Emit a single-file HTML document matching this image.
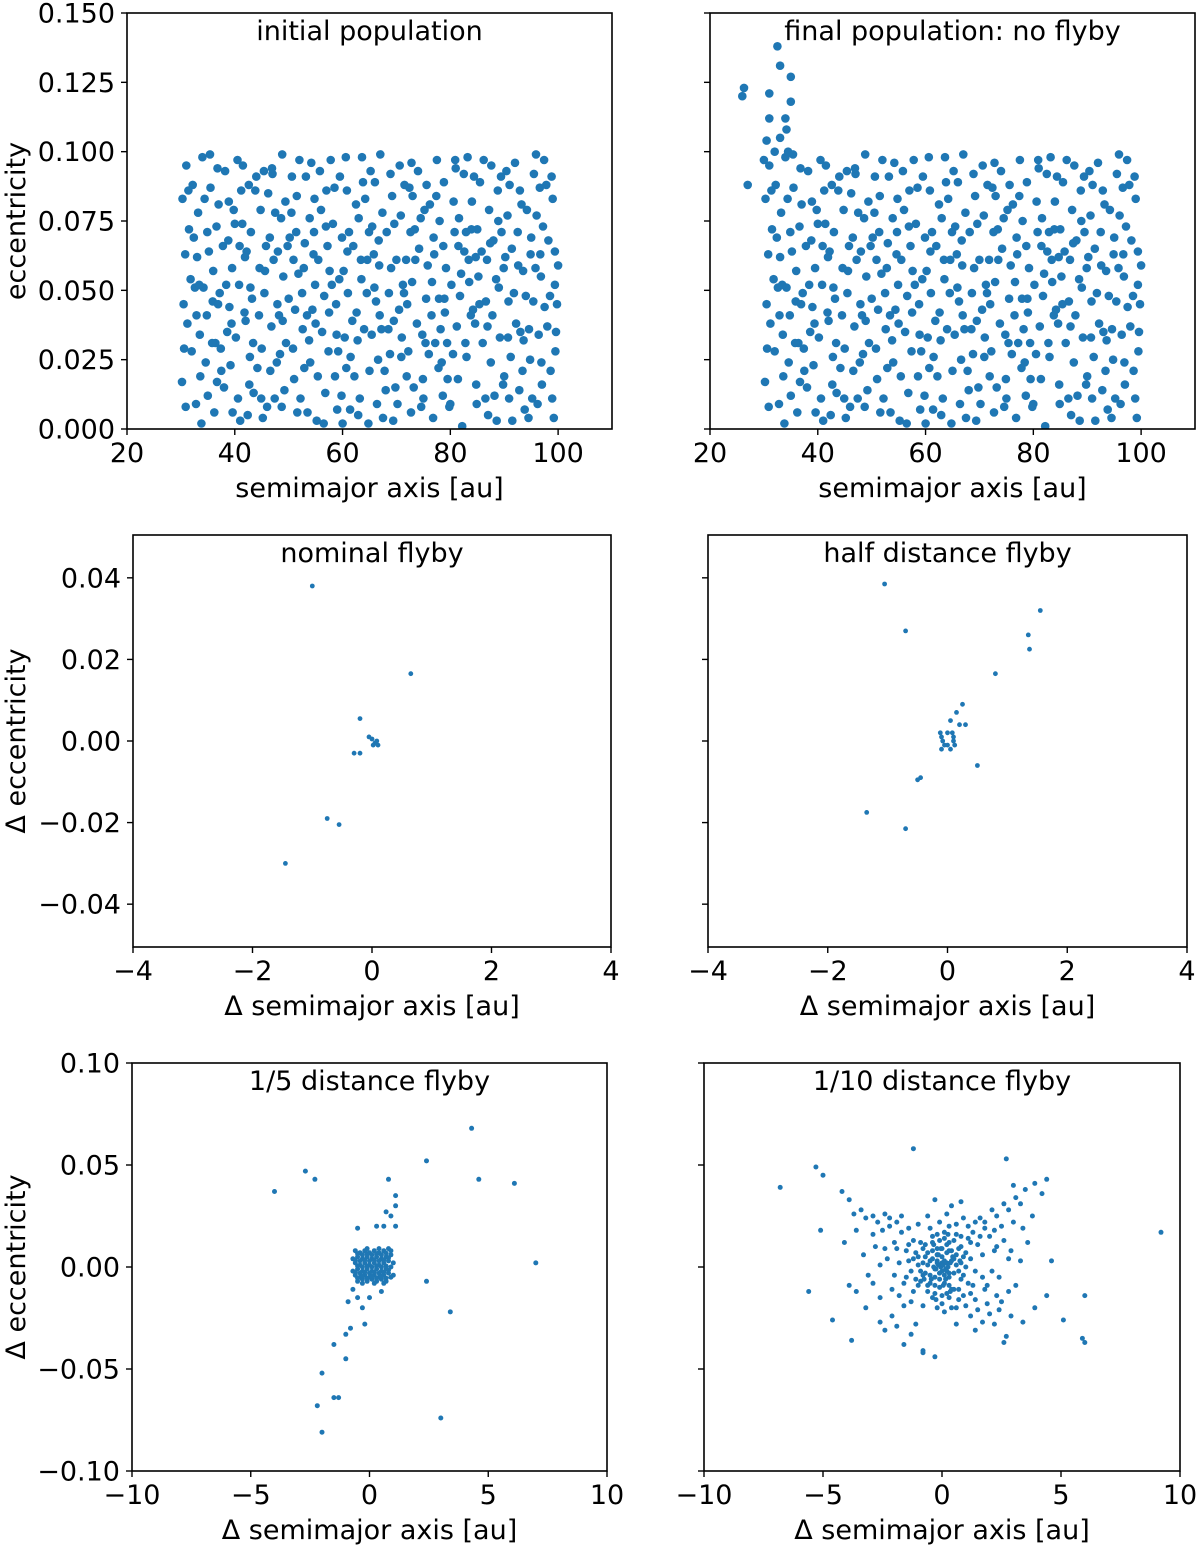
<!DOCTYPE html>
<html><head><meta charset="utf-8">
<style>
html,body{margin:0;padding:0;background:#fff;}
svg{display:block;font-family:"DejaVu Sans","Liberation Sans",sans-serif;}
</style></head>
<body>
<svg id="fig" width="1200" height="1548" viewBox="0 0 1200 1548" xmlns="http://www.w3.org/2000/svg"></svg>
<script>
// ---------- data ----------
const initPopA = [
[31,.095],[33,.062],[35,.012],[37,.081],[39,.044],[41,.003],[43,.071],[45,.029],[47,.092],[49,.055],[51,.018],[53,.067],[55,.038],[57,.086],[59,.007],[61,.049],[63,.076],[65,.021],[67,.099],[69,.058],[71,.033],[73,.084],[75,.011],[77,.063],[79,.042],[81,.094],[83,.026],[85,.072],[87,.005],[89,.051],[91,.088],[93,.035],[95,.069],[97,.016],[99,.083],
[30.5,.045],[32,.028],[34,.098],[36,.057],[38,.015],[40,.074],[42,.039],[44,.091],[46,.008],[48,.064],[50,.047],[52,.097],[54,.024],[56,.079],[58,.052],[60,.002],[62,.066],[64,.036],[66,.089],[68,.014],[70,.061],[72,.045],[74,.093],[76,.027],[78,.075],[80,.009],[82,.056],[84,.082],[86,.031],[88,.068],[90,.019],[92,.096],[94,.048],[96,.077],[98,.037],[100,.059],
[31.5,.072],[33.5,.034],[35.5,.087],[37.5,.021],[39.5,.058],[41.5,.095],[43.5,.013],[45.5,.049],[47.5,.078],[49.5,.031],[51.5,.084],[53.5,.006],[55.5,.061],[57.5,.042],[59.5,.091],[61.5,.026],[63.5,.054],[65.5,.073],[67.5,.004],[69.5,.039],[71.5,.088],[73.5,.061],[75.5,.047],[77.5,.097],[79.5,.018],[81.5,.066],[83.5,.053],[85.5,.089],[87.5,.024],[89.5,.071],[91.5,.003],[93.5,.057],[95.5,.092],[97.5,.044],[99.5,.028],
[30.2,.017],[32.2,.088],[34.2,.051],[36.2,.006],[38.2,.093],[40.2,.033],[42.2,.064],[44.2,.022],[46.2,.085],[48.2,.041],[50.2,.069],[52.2,.011],[54.2,.096],[56.2,.035],[58.2,.074],[60.2,.057],[62.2,.019],[64.2,.083],[66.2,.046],[68.2,.071],[70.2,.009],[72.2,.028],[74.2,.065],[76.2,.081],[78.2,.036],[80.2,.052],[82.2,.001],[84.2,.043],[86.2,.097],[88.2,.012],[90.2,.062],[92.2,.038],[94.2,.079],[96.2,.009],[98.2,.068],
[30.8,.063],[32.8,.009],[34.8,.041],[36.8,.094],[38.8,.068],[40.8,.052],[42.8,.026],[44.8,.079],[46.8,.037],[48.8,.099],[50.8,.029],[52.8,.058],[54.8,.083],[56.8,.013],[58.8,.045],[60.8,.086],[62.8,.032],[64.8,.002],[66.8,.059],[68.8,.027],[70.8,.077],[72.8,.096],[74.8,.034],[76.8,.004],[78.8,.089],[80.8,.071],[82.8,.031],[84.8,.016],[86.8,.061],[88.8,.086],[90.8,.046],[92.8,.014],[94.8,.025],[96.8,.055],[98.8,.091],
[31.2,.038],[33.2,.078],[35.2,.064],[37.2,.049],[39.2,.023],[41.2,.086],[43.2,.047],[45.2,.004],[47.2,.061],[49.2,.014],[51.2,.043],[53.2,.091],[55.2,.003],[57.2,.066],[59.2,.028],[61.2,.071],[63.2,.011],[65.2,.093],[67.2,.036],[69.2,.084],[71.2,.052],[73.2,.015],[75.2,.079],[77.2,.031],[79.2,.058],[81.2,.037],[83.2,.098],[85.2,.055],[87.2,.079],[89.2,.033],[91.2,.026],[93.2,.081],[95.2,.011],[97.2,.073],[99.2,.004],
[32.6,.051],[34.6,.024],[36.6,.073],[38.6,.035],[40.6,.011],[42.6,.088],[44.6,.058],[46.6,.021],[48.6,.076],[50.6,.091],[52.6,.036],[54.6,.063],[56.6,.048],[58.6,.019],[60.6,.098],[62.6,.042],[64.6,.061],[66.6,.025],[68.6,.049],[70.6,.095],[72.6,.071],[74.6,.008],[76.6,.053],[78.6,.012],[80.6,.082],[82.6,.064],[84.6,.038],[86.6,.046],[88.6,.003],[90.6,.077],[92.6,.059],[94.6,.036],[96.6,.087],[98.6,.021],[99.8,.045],
[30.3,.083],[33.8,.002],[36.4,.031],[39.8,.079],[42.4,.005],[45.8,.066],[48.4,.027],[51.8,.056],[54.4,.043],[57.8,.097],[60.4,.033],[63.8,.089],[66.4,.009],[69.8,.015],[72.4,.087],[75.8,.059],[78.4,.024],[81.8,.048],[84.4,.091],[87.8,.041],[90.4,.093],[93.8,.007],[96.4,.034],[99.4,.064],[35.9,.046],[41.9,.062],[47.9,.045],[53.9,.076],[59.9,.069],[65.9,.051],[71.9,.019],[77.9,.047],[83.9,.072],[89.9,.058],[95.9,.099]
];
const initPopB = [
[30.6,.029],[32.4,.069],[34.4,.083],[36.7,.017],[38.4,.052],[40.5,.097],[42.7,.016],[44.5,.041],[46.5,.069],[48.7,.008],[50.5,.078],[52.5,.049],[54.7,.071],[56.5,.002],[58.5,.087],[60.7,.022],[62.5,.081],[64.5,.049],[66.7,.068],[68.5,.036],[70.5,.043],[72.7,.006],[74.5,.076],[76.5,.041],[78.7,.066],[80.5,.027],[82.5,.092],[84.7,.062],[86.5,.011],[88.5,.054],[90.7,.033],[92.5,.071],[94.5,.004],[96.7,.063],[98.5,.048],
[31.8,.054],[33.6,.019],[35.8,.031],[37.8,.066],[39.6,.006],[41.8,.042],[43.8,.086],[45.6,.057],[47.8,.024],[49.8,.066],[51.6,.006],[53.8,.032],[55.8,.093],[57.6,.057],[59.8,.012],[61.8,.039],[63.6,.098],[65.8,.063],[67.8,.021],[69.6,.074],[71.8,.061],[73.8,.038],[75.6,.088],[77.8,.022],[79.8,.008],[81.6,.076],[83.8,.041],[85.8,.064],[87.6,.095],[89.8,.016],[91.8,.049],[93.6,.032],[95.8,.058],[97.8,.088],[99.6,.035],
[30.9,.008],[32.9,.041],[34.9,.071],[36.9,.045],[38.9,.082],[40.9,.066],[42.9,.051],[44.9,.011],[46.9,.094],[48.9,.039],[50.9,.061],[52.9,.022],[54.9,.052],[56.9,.073],[58.9,.034],[60.9,.064],[62.9,.005],[64.9,.071],[66.9,.041],[68.9,.092],[70.9,.026],[72.9,.053],[74.9,.018],[76.9,.069],[78.9,.047],[80.9,.097],[82.9,.071],[84.9,.009],[86.9,.037],[88.9,.075],[90.9,.011],[92.9,.086],[94.9,.063],[96.9,.024],[98.9,.011],
[31.4,.086],[33.4,.052],[35.4,.099],[37.4,.029],[39.4,.038],[41.4,.074],[43.4,.031],[45.4,.093],[47.4,.011],[49.4,.082],[51.4,.071],[53.4,.041],[55.4,.019],[57.4,.028],[59.4,.054],[61.4,.007],[63.4,.061],[65.4,.034],[67.4,.078],[69.4,.003],[71.4,.049],[73.4,.072],[75.4,.031],[77.4,.084],[79.4,.031],[81.4,.018],[83.4,.061],[85.4,.045],[87.4,.067],[89.4,.091],[91.4,.065],[93.4,.021],[95.4,.046],[97.4,.097],[99.4,.052]
];
const initPop = initPopA.concat(initPopB);
const noFlybyExtra = [[26,.120],[26.3,.123],[27,.088],[31,.121],[32.5,.138],[33,.131],[34,.112],[34.2,.108],[35,.118],[34.5,.100],[35,.127],[30,.097],[33,.105],[32,.100],[31,.112],[30.5,.104]];
const noFlybyPop = initPop.concat(noFlybyExtra);

const nominalD = [[-1,.038],[.65,.0165],[-.2,.0055],[0,.0005],[.05,-.0005],[.1,-.001],[.08,0],[-.05,.001],[-.3,-.003],[-.2,-.003],[-.75,-.019],[-.55,-.0205],[-1.45,-.030],[.02,-.001]];
const halfD = [[-1.05,.0385],[1.55,.032],[-.7,.027],[1.35,.026],[1.37,.0225],[.8,.0165],[.25,.009],[.15,.007],[.05,.005],[.3,.004],[.2,.004],[.5,-.006],[-.45,-.009],[-.5,-.0095],[-1.35,-.0175],[-.7,-.0215],[-.1,.001],[0,.002],[.1,.001],[-.05,-.001],[.05,-.002],[.1,0],[-.1,-.002],[0,-.001],[.08,.002],[-.08,0],[.12,-.001],[-.12,.002]];
const fifthOut = [[-4,.037],[-2.7,.047],[-2.3,.043],[.8,.043],[2.4,.052],[4.3,.068],[4.6,.043],[6.1,.041],[7,.002],[2.4,-.007],[3.4,-.022],[3,-.074],[-1.3,-.064],[-1.5,-.064],[-2,-.052],[-2.2,-.068],[-2,-.081],[-1,-.045],[-.8,-.03],[-1,-.033],[-.5,.019],[.7,.027],[.9,.025],[1.1,.03],[1.1,.035],[1.1,.02],[.6,.02],[.3,.02],[-1.5,-.038],[-.3,-.02],[0,-.015],[-.5,-.015],[-.9,-.017],[-.7,-.011],[-.2,-.028],[.5,-.012]];
const fifthCore = [
[-.6,.008],[-.4,.007],[-.2,.008],[0,.007],[.2,.008],[.4,.007],[.6,.008],[.8,.009],[-.5,.005],[-.3,.004],[-.1,.005],[.1,.004],[.3,.005],[.5,.004],[.7,.005],[.9,.006],[-.6,.002],[-.4,.001],[-.2,.002],[0,.001],[.2,.002],[.4,.001],[.6,.002],[.8,.003],[-.5,-.001],[-.3,-.002],[-.1,-.001],[.1,-.002],[.3,-.001],[.5,-.002],[.7,-.001],[.9,0],[-.6,-.004],[-.4,-.005],[-.2,-.004],[0,-.005],[.2,-.004],[.4,-.005],[.6,-.004],[.8,-.003],[-.5,-.007],[-.3,-.006],[-.1,-.007],[.1,-.006],[.3,-.007],[.5,-.006],[.7,-.007],[.2,-.008],[-.7,.004],[-.7,-.002],[1,.002],[1,-.004],[.9,.008],[-.1,.009],[.4,.009],[-.3,-.008],[.6,-.008],
[-.5,.0065],[-.3,.006],[-.1,.0065],[.1,.006],[.3,.0065],[.5,.006],[.7,.0068],[-.6,.0035],[-.4,.003],[-.2,.0035],[0,.003],[.2,.0035],[.4,.003],[.6,.0035],[.8,.0045],[-.5,.0005],[-.3,0],[-.1,.0005],[.1,0],[.3,.0005],[.5,0],[.7,.0005],[-.6,-.0025],[-.4,-.003],[-.2,-.0025],[0,-.003],[.2,-.0025],[.4,-.003],[.6,-.0025],[.8,-.0015],[-.5,-.0055],[-.3,-.0045],[-.1,-.0055],[.1,-.0045],[.3,-.0055],[.5,-.0045],[.7,-.0055],[.9,-.005]
];
const fifthD = fifthOut.concat(fifthCore);
const tenthOut = [[-6.8,.039],[-5.3,.049],[-5,.045],[-5.1,.018],[-5.6,-.012],[-4.6,-.026],[-3.8,-.036],[-1.2,.058],[2.7,.053],[4.4,.043],[9.2,.017],[6,-.014],[5.9,-.035],[6,-.037],[5.1,-.026],[2.6,-.037],[-.8,-.041],[-.3,-.044],[-.8,-.042],
[-4.2,.037],[-3.9,.033],[-3.4,.028],[-2.9,.025],[-2.4,.026],[-1.9,.022],[-1.4,.019],[3.9,.041],[3.5,.038],[3.1,.034],[2.6,.031],[2.1,.028],[1.6,.024],[1.1,.02],[4.2,.036],[3.8,.025],[-3.6,.018],[-4.1,.012],[-3.1,-.004],[-3.6,-.012],[-3.2,-.02],[-2.6,-.027],[-2.1,-.024],[-1.6,-.019],[3.9,-.02],[3.4,-.027],[2.9,-.024],[2.4,-.021],[1.9,-.018],[2.7,-.034],[4.4,-.014],[4.6,.003],[3.6,.012],[-1.6,-.038],[1.4,-.031],[-.3,.033],[.4,.03],[.8,.032],
[-3.7,.026],[-3.2,.024],[-2.7,.022],[-2.2,.024],[-1.7,.025],[3.3,.031],[2.8,.028],[2.3,.025],[1.8,.022],[3,.04],[-3.9,-.009],[-2.4,-.031],[-1.9,-.029],[2.2,-.028],[1.7,-.027],[1.2,-.024],[-1.1,-.028],[-1.3,-.033],[.6,-.028],[2.5,-.017],[-2.9,.016],[3.4,.019]];
const tenthCore = [
[-2.5,.018],[-2,.012],[-1.5,.008],[-1,.005],[-.5,.003],[0,.002],[.5,.004],[1,.007],[1.5,.011],[2,.015],[2.5,.02],[3,.022],[-2.8,.01],[-2.3,.004],[-1.8,.002],[-1.3,-.002],[-.8,-.004],[-.3,-.001],[.3,-.003],[.8,-.006],[1.3,-.009],[1.8,-.011],[2.3,-.014],[2.8,-.012],[-2.6,-.015],[-2.1,-.011],[-1.6,-.008],[-1.1,-.006],[-.6,-.009],[-.1,-.006],[.4,-.011],[.9,-.014],[1.4,-.016],[1.9,-.009],[2.4,-.005],[2.9,.008],[-2.2,.02],[-1.7,.017],[-1.2,.013],[-.7,.011],[-.2,.009],[.3,.012],[.8,.015],[1.3,.017],[1.8,.019],[2.3,.01],[2.8,.004],[-3.3,.006],[-2.9,-.008],[3.3,.003],[3.1,-.009],
[-1,.001],[-.8,.002],[-.6,.001],[-.4,.004],[-.2,.003],[0,.005],[.2,.002],[.4,.003],[.6,.001],[.8,.002],[1,0],[-.9,-.002],[-.7,-.003],[-.5,-.004],[-.3,-.005],[-.1,-.003],[.1,-.004],[.3,-.005],[.5,-.003],[.7,-.002],[.9,-.004],[-.6,.007],[-.4,.008],[-.2,.006],[0,.009],[.2,.007],[.4,.008],[.6,.006],[-.5,-.008],[-.3,-.009],[-.1,-.01],[.1,-.008],[.3,-.009],[.5,-.011],[-.4,.012],[-.1,.013],[.2,.011],[.5,.013],[-.3,-.013],[0,-.014],[.3,-.015],[-.2,.016],[.1,.017],[-.6,-.012],[.7,-.011],[-.8,.009],[.8,.01],[-1.1,.007],[1.1,-.008],[-.9,-.007],[.9,.005],[0,-.018],[.1,-.022],[-.2,-.02],[.4,-.02],[-.5,.019],[.6,.021],[-.1,.022],[.3,.02],[-1.2,-.012],[1.2,.012],[-1.4,.003],[1.4,-.002],[-.05,0],[.05,.001],[.15,-.001],[-.15,.001],[.25,0],[-.25,-.001],[.35,.002],[-.35,0],[0,-.002],[.1,.003],[-.1,-.003],[.2,-.002],[-.2,.002],
[-1.4,.011],[-.9,.012],[-.4,.015],[.1,.014],[.6,.016],[1.1,.014],[1.6,.015],[-1.9,.009],[-1.2,.004],[-.7,.005],[-.2,.006],[.3,.008],[.7,.009],[1.2,.004],[1.7,.006],[2.2,.008],[-2,-.004],[-1.5,-.005],[-1,-.009],[-.4,-.015],[.2,-.013],[.7,-.016],[1.2,-.013],[1.7,-.005],[2.1,-.002],[-1.8,-.014],[-1.3,-.017],[-.8,-.019],[.6,-.02],[1,-.019],[1.5,-.021],[2,-.023],[-2.4,.009],[-2.6,.001],[2.6,.013],[2.2,.018],[-.6,.025],[.2,.026],[.9,.024],[-1,.021],[1.4,.022],[-.15,.006],[.15,-.006],[-.35,.011],[.35,-.012],[-.45,-.006],[.45,.005],[-.75,-.006],[.75,.003],[-.25,-.016],[.25,.016],[.05,-.009],[-.05,.009]
];
const tenthD = tenthOut.concat(tenthCore);

// ---------- layout ----------
const svg = document.getElementById('fig');
const NS = 'http://www.w3.org/2000/svg';
const COL = '#1f77b4';
const FS = 27;
function el(tag, attrs, parent){const e=document.createElementNS(NS,tag);for(const k in attrs)e.setAttribute(k,attrs[k]);(parent||svg).appendChild(e);return e;}
function fmt(v,dec){let s=Math.abs(v).toFixed(dec);return (v<0?'\u2212':'')+s;}

const panels = [
 {name:'initial-population',title:'initial population',box:[127,13,612,429],xd:[20,110],yd:[0,.15],xt:[20,40,60,80,100],yt:[0,.025,.05,.075,.1,.125,.15],ydec:3,xdec:0,ylab:true,ytitle:'eccentricity',xtitle:'semimajor axis [au]',data:initPop,r:4.3},
 {name:'final-population-no-flyby',title:'final population: no flyby',box:[710,13,1195,429],xd:[20,110],yd:[0,.15],xt:[20,40,60,80,100],yt:[0,.025,.05,.075,.1,.125,.15],ydec:3,xdec:0,ylab:false,xtitle:'semimajor axis [au]',data:noFlybyPop,r:4.3},
 {name:'nominal-flyby',title:'nominal flyby',box:[133,535,611,947],xd:[-4,4],yd:[-.0505,.0505],xt:[-4,-2,0,2,4],yt:[-.04,-.02,0,.02,.04],ydec:2,xdec:0,ylab:true,ytitle:'\u0394 eccentricity',xtitle:'\u0394 semimajor axis [au]',data:nominalD,r:2.4},
 {name:'half-distance-flyby',title:'half distance flyby',box:[708,535,1187,947],xd:[-4,4],yd:[-.0505,.0505],xt:[-4,-2,0,2,4],yt:[-.04,-.02,0,.02,.04],ydec:2,xdec:0,ylab:false,xtitle:'\u0394 semimajor axis [au]',data:halfD,r:2.4},
 {name:'fifth-distance-flyby',title:'1/5 distance flyby',box:[132,1063,607,1471],xd:[-10,10],yd:[-.1,.1],xt:[-10,-5,0,5,10],yt:[-.1,-.05,0,.05,.1],ydec:2,xdec:0,ylab:true,ytitle:'\u0394 eccentricity',xtitle:'\u0394 semimajor axis [au]',data:fifthD,r:2.5},
 {name:'tenth-distance-flyby',title:'1/10 distance flyby',box:[704,1063,1180,1471],xd:[-10,10],yd:[-.1,.1],xt:[-10,-5,0,5,10],yt:[-.1,-.05,0,.05,.1],ydec:2,xdec:0,ylab:false,xtitle:'\u0394 semimajor axis [au]',data:tenthD,r:2.5}
];

panels.forEach(p=>{
  const [x0,y0,x1,y1]=p.box;
  const g=el('g',{});
  
  
  const sx=v=>x0+(v-p.xd[0])/(p.xd[1]-p.xd[0])*(x1-x0);
  const sy=v=>y1-(v-p.yd[0])/(p.yd[1]-p.yd[0])*(y1-y0);
  const cp='clip-'+p.name;
  const cl=el('clipPath',{id:cp},g); el('rect',{x:x0,y:y0,width:x1-x0,height:y1-y0},cl);
  const pts=el('g',{'clip-path':'url(#'+cp+')'},g);
  
  
  p.data.forEach(d=>{
    const c=el('circle',{cx:sx(d[0]).toFixed(1),cy:sy(d[1]).toFixed(1),r:p.r,fill:COL},pts);
    
    
  });
  const fr=el('rect',{x:x0,y:y0,width:x1-x0,height:y1-y0,fill:'none',stroke:'#000','stroke-width':1.6},g);
  
  
  p.xt.forEach(t=>{
    const x=sx(t);
    el('line',{x1:x,x2:x,y1:y1,y2:y1+6,stroke:'#000','stroke-width':1.4},g);
    const tx=el('text',{x:x,y:y1+33,'font-size':FS,'text-anchor':'middle',fill:'#000'},g);
    tx.textContent=fmt(t,p.xdec);
    
    
  });
  p.yt.forEach(t=>{
    const y=sy(t);
    el('line',{x1:x0-6,x2:x0,y1:y,y2:y,stroke:'#000','stroke-width':1.4},g);
    if(p.ylab){
      const tx=el('text',{x:x0-12,y:y+9.5,'font-size':FS,'text-anchor':'end',fill:'#000'},g);
      tx.textContent=fmt(t,p.ydec);
      
      
    }
  });
  const tt=el('text',{x:(x0+x1)/2,y:y0+27,'font-size':FS,'text-anchor':'middle',fill:'#000'},g);
  tt.textContent=p.title;
  
  
  const xt=el('text',{x:(x0+x1)/2,y:y1+68,'font-size':FS,'text-anchor':'middle',fill:'#000'},g);
  xt.textContent=p.xtitle;
  
  
  if(p.ytitle){
    const cy=(y0+y1)/2;
    const yt=el('text',{x:0,y:0,'font-size':FS,'text-anchor':'middle',fill:'#000',transform:'translate(25,'+cy+') rotate(-90)'},g);
    yt.textContent=p.ytitle;
    
    
  }
});
</script>
</body></html>
